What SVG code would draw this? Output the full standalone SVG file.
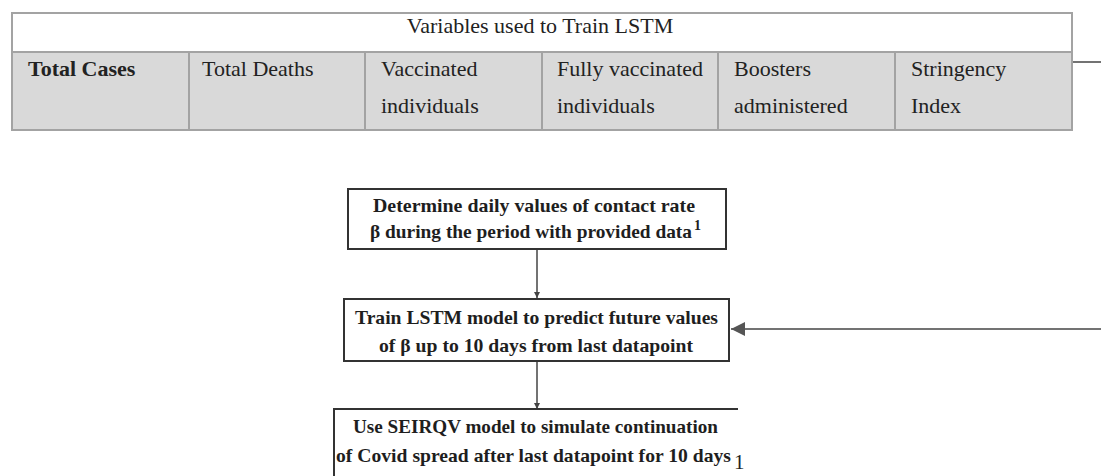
<svg xmlns="http://www.w3.org/2000/svg" width="1101" height="476" viewBox="0 0 1101 476">
<defs>
<style>
.tt{font-family:"Liberation Serif","Times New Roman",serif;font-size:22px;fill:#222}
.tb{font-weight:bold}
.fc{font-family:"Liberation Serif","Times New Roman",serif;font-size:19px;font-weight:bold;fill:#1e1e1e}
.grid{stroke:#a3a3a3;stroke-width:2;fill:none}
.box{fill:#fff;stroke:#333;stroke-width:2}
.conn{stroke:#444;stroke-width:1.5;fill:none}
</style>
<marker id="ah" viewBox="0 0 10 10" refX="10" refY="5" markerWidth="6" markerHeight="6" orient="auto" markerUnits="userSpaceOnUse">
<path d="M0,0 L10,5 L0,10 z" fill="#444"/>
</marker>
<marker id="ahBig" viewBox="0 0 10 10" refX="10" refY="5" markerWidth="14" markerHeight="14" orient="auto" markerUnits="userSpaceOnUse">
<path d="M0,0 L10,5 L0,10 z" fill="#555"/>
</marker>
</defs>
<rect width="1101" height="476" fill="#fff"/>

<g id="variables-table">
<rect x="12" y="52" width="1060" height="78" fill="#d9d9d9"/>
<rect x="12" y="13" width="1060" height="39" fill="#fff"/>
<rect class="grid" x="12" y="13" width="1060" height="117"/>
<line class="grid" x1="12" y1="52" x2="1072" y2="52"/>
<line class="grid" x1="189" y1="52" x2="189" y2="130"/>
<line class="grid" x1="365" y1="52" x2="365" y2="130"/>
<line class="grid" x1="542" y1="52" x2="542" y2="130"/>
<line class="grid" x1="718" y1="52" x2="718" y2="130"/>
<line class="grid" x1="895" y1="52" x2="895" y2="130"/>
<text class="tt" x="540" y="33" text-anchor="middle">Variables used to Train LSTM</text>
<text class="tt tb" x="28" y="76">Total Cases</text>
<text class="tt" x="202" y="76">Total Deaths</text>
<text class="tt" x="381" y="76">Vaccinated</text>
<text class="tt" x="381" y="113">individuals</text>
<text class="tt" x="557" y="76">Fully vaccinated</text>
<text class="tt" x="557" y="113">individuals</text>
<text class="tt" x="734" y="76">Boosters</text>
<text class="tt" x="734" y="113">administered</text>
<text class="tt" x="911" y="76">Stringency</text>
<text class="tt" x="911" y="113">Index</text>
</g>

<g id="connectors">
<line class="conn" x1="1073" y1="62" x2="1101" y2="62"/>
<line class="conn" x1="1101" y1="329" x2="731" y2="329" marker-end="url(#ahBig)"/>
<line class="conn" x1="537" y1="250" x2="537" y2="298" marker-end="url(#ah)"/>
<line class="conn" x1="537" y1="361" x2="537" y2="409" marker-end="url(#ah)"/>
</g>

<g id="step-determine-beta">
<rect class="box" x="348" y="189" width="378" height="60"/>
<text class="fc" x="373" y="212" textLength="322" lengthAdjust="spacingAndGlyphs">Determine daily values of contact rate</text>
<text class="fc" x="370" y="238"><tspan textLength="322" lengthAdjust="spacingAndGlyphs">β during the period with provided data</tspan><tspan dx="2" dy="-8" font-size="14">1</tspan></text>
</g>

<g id="step-train-lstm">
<rect class="box" x="344" y="299" width="385" height="62"/>
<text class="fc" x="355" y="324" textLength="363" lengthAdjust="spacingAndGlyphs">Train LSTM model to predict future values</text>
<text class="fc" x="379" y="352" textLength="314" lengthAdjust="spacingAndGlyphs">of β up to 10 days from last datapoint</text>
</g>

<g id="step-seirqv">
<path class="box" d="M334,478 L334,409 L738,409" fill="#fff"/>
<text class="fc" x="353" y="433" textLength="365" lengthAdjust="spacingAndGlyphs">Use SEIRQV model to simulate continuation</text>
<text class="fc" x="336" y="462"><tspan textLength="395" lengthAdjust="spacingAndGlyphs">of Covid spread after last datapoint for 10 days</tspan><tspan dx="3" dy="7" font-size="21" font-weight="normal" fill="#222">1</tspan></text>
</g>
</svg>
